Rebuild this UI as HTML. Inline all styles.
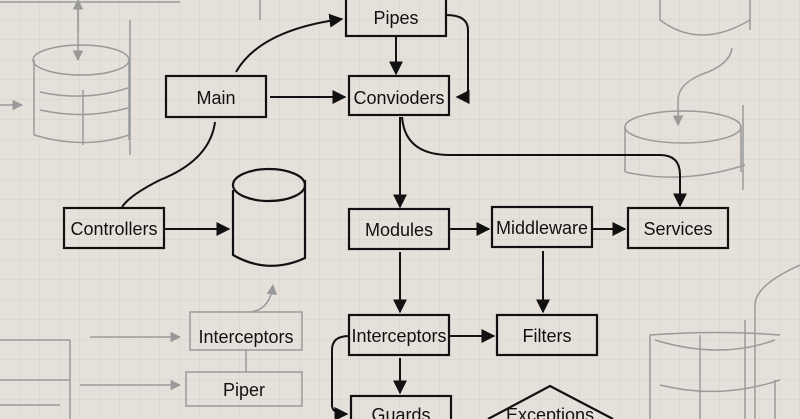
<!DOCTYPE html>
<html><head><meta charset="utf-8"><style>
html,body{margin:0;padding:0;background:#e5e0d9;}
svg{display:block}
text{font-family:"Liberation Sans",sans-serif;font-size:18px;fill:#111;}
</style></head><body>
<svg width="800" height="419" viewBox="0 0 800 419" xmlns="http://www.w3.org/2000/svg">
<defs>
<pattern id="g" width="20" height="20" patternUnits="userSpaceOnUse"><path d="M20 0V20H0" fill="none" stroke="#d6d0c8" stroke-width="1"/></pattern>
<marker id="a" viewBox="0 0 10 10" refX="9" refY="5" markerWidth="7" markerHeight="7" orient="auto"><path d="M0 0L10 5L0 10z" fill="#111"/></marker>
<marker id="ga" viewBox="0 0 10 10" refX="9" refY="5" markerWidth="7" markerHeight="7" orient="auto"><path d="M0 0L10 5L0 10z" fill="#999"/></marker>
</defs>
<rect width="800" height="419" fill="url(#g)"/>
<!-- gray sketches -->
<g fill="none" stroke="#9a9a9a" stroke-width="1.5">
<path d="M0 2H180"/>
<path d="M78 0V60" marker-end="url(#ga)"/><path d="M78 30V0" marker-end="url(#ga)"/>
<ellipse cx="81" cy="60" rx="48" ry="15"/>
<path d="M34 60V135M129 60V140M130 20V155M83 90V145"/>
<path d="M40 92Q85 102 128 88M40 110Q85 120 128 108M34 135Q85 150 129 135"/>
<path d="M0 105H22" marker-end="url(#ga)"/>
<path d="M260 0V20M660 0V20Q700 50 750 20V0M750 0V30"/>
<path d="M0 340H70M0 380H70M70 340V419M0 405H60"/>
<path d="M90 337H180" marker-end="url(#ga)"/>
<path d="M80 385H180" marker-end="url(#ga)"/>
<path d="M190 312H302V350H190Z"/>
<path d="M186 372H302V406H186Z"/>
<path d="M246 350V372"/>
<path d="M250 312Q270 310 273 285" marker-end="url(#ga)"/>
<path d="M732 48Q730 65 700 75Q678 85 678 100V125" marker-end="url(#ga)"/>
<ellipse cx="683" cy="127" rx="58" ry="16"/>
<path d="M625 127V172M741 127V172M743 105V190M625 172Q683 185 745 165"/>
<path d="M800 265Q755 285 755 305V419M775 380V419"/>
<path d="M780 335Q720 330 650 335V419M655 340Q720 360 775 340M700 335V419M745 320V419M660 385Q720 400 780 380"/>
</g>
<!-- boxes -->
<g fill="none" stroke="#111" stroke-width="2.2">
<rect x="346" y="-4" width="100" height="40"/>
<rect x="166" y="76" width="100" height="41"/>
<rect x="349" y="76" width="100" height="39"/>
<rect x="64" y="208" width="100" height="40"/>
<rect x="349" y="209" width="100" height="40"/>
<rect x="492" y="207" width="100" height="40"/>
<rect x="628" y="208" width="100" height="40"/>
<rect x="349" y="315" width="100" height="40"/>
<rect x="497" y="315" width="100" height="40"/>
<rect x="351" y="396" width="100" height="30"/>
<path d="M488 419L550 386L613 419"/>
<path d="M233 190V255Q268 275 305 258V180"/>
<ellipse cx="269" cy="185" rx="36" ry="16"/>
</g>
<!-- connectors -->
<g fill="none" stroke="#111" stroke-width="2">
<path d="M236 72Q260 30 342 19" marker-end="url(#a)"/>
<path d="M270 97H345" marker-end="url(#a)"/>
<path d="M446 15Q468 15 468 30V90Q468 97 457 97" marker-end="url(#a)"/>
<path d="M396 36V74" marker-end="url(#a)"/>
<path d="M215 122Q210 160 160 180Q130 195 122 207"/>
<path d="M165 229H229" marker-end="url(#a)"/>
<path d="M400 117V207" marker-end="url(#a)"/>
<path d="M402 117Q405 155 450 155H660Q680 155 680 175V206" marker-end="url(#a)"/>
<path d="M449 229H489" marker-end="url(#a)"/>
<path d="M593 229H625" marker-end="url(#a)"/>
<path d="M543 251V312" marker-end="url(#a)"/>
<path d="M400 252V312" marker-end="url(#a)"/>
<path d="M450 336H494" marker-end="url(#a)"/>
<path d="M400 358V393" marker-end="url(#a)"/>
<path d="M349 336Q332 336 332 350V405Q332 414 347 414" marker-end="url(#a)"/>
</g>
<g text-anchor="middle">
<text x="396" y="24">Pipes</text>
<text x="216" y="104">Main</text>
<text x="399" y="104">Convioders</text>
<text x="114" y="235">Controllers</text>
<text x="399" y="236">Modules</text>
<text x="542" y="234">Middleware</text>
<text x="678" y="235">Services</text>
<text x="399" y="342">Interceptors</text>
<text x="547" y="342">Filters</text>
<text x="401" y="421">Guards</text>
<text x="550" y="421">Exceptions</text>
<text x="246" y="343">Interceptors</text>
<text x="244" y="396">Piper</text>
</g>
</svg>
</body></html>
